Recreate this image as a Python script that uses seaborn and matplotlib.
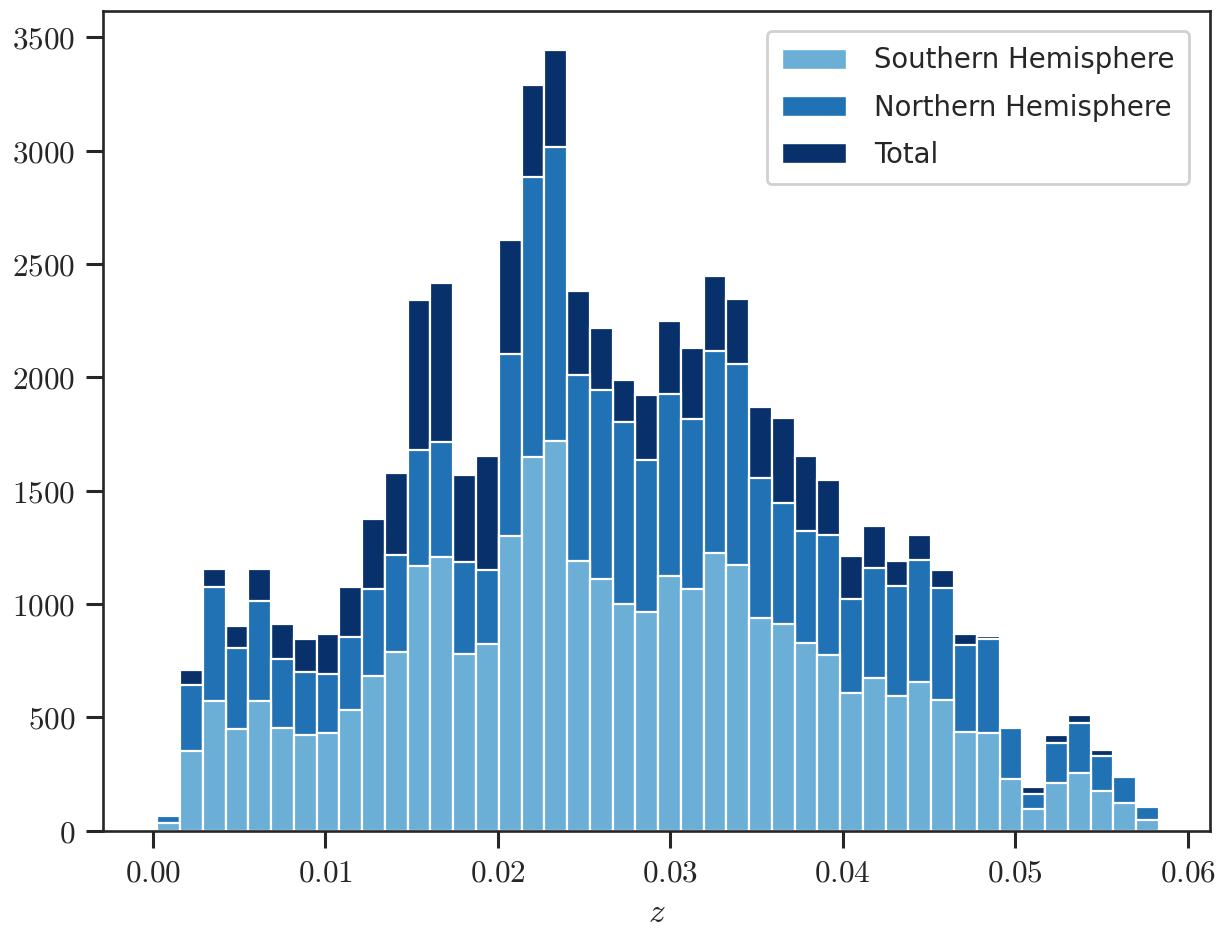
import numpy as np
import pandas as pd
import matplotlib
matplotlib.use("Agg")
import matplotlib.pyplot as plt
import seaborn as sns
from matplotlib.patches import Patch

# Histogram bin layout (z)
bin_start = 0.00025
bin_width = 0.00132
n_bins = 44

total = [75, 709, 1153, 904, 1153, 910, 846, 866, 1077, 1373, 1578, 2341, 2415, 1570,
         1654, 2604, 3288, 3444, 2379, 2217, 1988, 1920, 2248, 2128, 2448, 2344, 1870,
         1820, 1654, 1548, 1212, 1343, 1190, 1306, 1151, 869, 859, 440, 193, 422, 512,
         357, 230, 95]
northern = [66, 643, 1074, 807, 1015, 757, 699, 690, 854, 1066, 1217, 1679, 1713, 1185,
            1150, 2101, 2884, 3017, 2010, 1944, 1804, 1635, 1928, 1817, 2115, 2057, 1557,
            1444, 1323, 1306, 1021, 1160, 1078, 1195, 1072, 818, 846, 453, 162, 385, 477,
            330, 238, 103]
southern = [35, 352, 572, 449, 572, 452, 422, 430, 534, 681, 787, 1169, 1206, 781,
            824, 1300, 1648, 1718, 1190, 1111, 1000, 964, 1123, 1066, 1226, 1173, 937,
            910, 828, 775, 606, 672, 596, 655, 575, 434, 430, 229, 96, 210, 256,
            177, 121, 49]

series_names = ["Southern Hemisphere", "Northern Hemisphere", "Total"]
colors = {"Southern Hemisphere": "#6baed6", "Northern Hemisphere": "#2171b5", "Total": "#08306b"}

x_ticks = [0.00, 0.01, 0.02, 0.03, 0.04, 0.05, 0.06]
x_tick_labels = ["0.00", "0.01", "0.02", "0.03", "0.04", "0.05", "0.06"]
y_ticks = [0, 500, 1000, 1500, 2000, 2500, 3000, 3500]
y_tick_labels = ["0", "500", "1000", "1500", "2000", "2500", "3000", "3500"]

bin_lo = bin_start
bin_hi = bin_start + bin_width * n_bins
centers = bin_start + bin_width * (np.arange(n_bins) + 0.5)

sns.set_theme(style="ticks")
plt.rcParams["mathtext.fontset"] = "cm"
plt.rcParams["font.family"] = ["DejaVu Sans"]

fig = plt.figure(figsize=(12.25, 9.33), dpi=100)
ax = fig.add_axes([0.0841, 0.1097, 0.9878 - 0.0841, 0.9885 - 0.1097])

data = {"Total": total, "Northern Hemisphere": northern, "Southern Hemisphere": southern}
for name in ["Total", "Northern Hemisphere", "Southern Hemisphere"]:
    df = pd.DataFrame({"z": centers, "count": data[name]})
    sns.histplot(data=df, x="z", weights="count", bins=n_bins, binrange=(bin_lo, bin_hi),
                 ax=ax, color=colors[name], alpha=1.0, edgecolor="white", linewidth=1.6,
                 element="bars", fill=True)

ax.set_xlim(-0.0029, 0.0613)
ax.set_ylim(0, 3617)
ax.set_xticks(x_ticks)
ax.set_xticklabels(["$" + t + "$" for t in x_tick_labels])
ax.set_yticks(y_ticks)
ax.set_yticklabels(["$" + t + "$" for t in y_tick_labels])
ax.tick_params(axis="both", labelsize=22.5, length=12, width=2.2, color="#262626",
               labelcolor="#262626", pad=8)
for sp in ax.spines.values():
    sp.set_linewidth(1.9)
    sp.set_color("#262626")
ax.set_xlabel("$z$", fontsize=24, color="#262626", labelpad=6)
ax.set_ylabel("")

handles = [Patch(facecolor=colors[n], edgecolor="white", label=n) for n in series_names]
leg = ax.legend(handles=handles, loc="upper right", fontsize=19.8, frameon=True,
                fancybox=True, framealpha=1, edgecolor="#d0d0d0",
                handlelength=2.35, handleheight=0.75, handletextpad=1.0,
                labelspacing=0.7, borderpad=0.55, borderaxespad=0.75)
leg.get_frame().set_linewidth(2.0)
for t in leg.get_texts():
    t.set_color("#262626")

fig.savefig("out.png", dpi=100)
